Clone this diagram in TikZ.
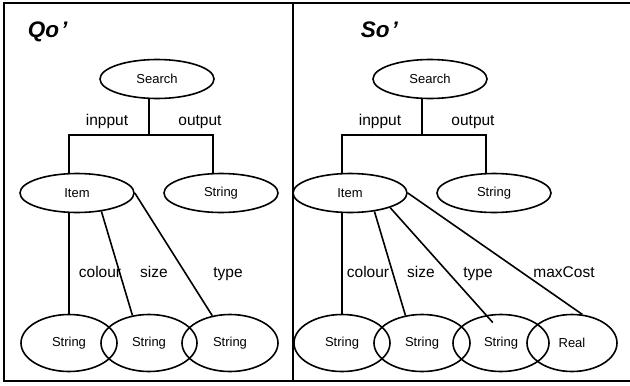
\documentclass[tikz,border=0pt]{standalone}
\usepackage{fontspec}
\setmainfont{Liberation Sans}
\usetikzlibrary{shapes.geometric}
\begin{document}
\begin{tikzpicture}[x=1pt,y=-1pt,
  line width=1.6pt,
  oval/.style={ellipse,draw,line width=1.6pt,inner sep=0pt,
    minimum width=114pt,minimum height=39pt,
    font=\fontsize{13}{15}\selectfont},
  leaf/.style={oval,minimum width=96pt,minimum height=57pt},
  lbl/.style={anchor=base,inner sep=0pt,font=\fontsize{15.5}{18}\selectfont},
  ttl/.style={anchor=base west,inner sep=0pt,font=\fontsize{22.5}{26}\selectfont\bfseries\itshape},
  edge/.style={line width=1.6pt}]
\useasboundingbox (0,0) rectangle (630,386);

% frame and divider
\draw[line width=2pt] (630,3) -- (4,3) -- (4,381) -- (630,381);
\draw[line width=2pt] (293,3) -- (293,381);

% ---------- left panel ----------
\node[ttl] (tq) at (27,37) {Qo\kern2pt’};
\node[oval] (sL) at (157,79) {Search};
\node[oval] (iL) at (77,193) {Item};
\node[oval] (oL) at (221,193) {String};
\node[leaf] (aL) at (69,343) {String};
\node[leaf] (bL) at (149,343) {String};
\node[leaf] (cL) at (230,343) {String};

\coordinate (jL) at (149,135);
\coordinate (lL) at (69,135);
\coordinate (rL) at (213,135);
\draw[edge] (jL |- sL.south) -- (jL);
\draw[edge] (lL |- iL.north) -- (lL) -- (rL) -- (rL |- oL.north);
\node[lbl] (inL) at (107,125) {inpput};
\node[lbl] (outL) at (200,125) {output};

\draw[edge] (aL.north |- iL.south) -- (aL.north);
\draw[edge] (iL.-37) -- (bL.121);
\draw[edge] (iL.0) -- (cL.123);
\node[lbl] (colL) at (100,277) {colour};
\node[lbl] (sizL) at (154,277) {size};
\node[lbl] (typL) at (228,277) {type};

% ---------- right panel ----------
\node[ttl] (ts) at (360,37) {So\kern2pt’};
\node[oval] (sR) at (430,79) {Search};
\node[oval] (iR) at (350,193) {Item};
\node[oval] (oR) at (494,193) {String};
\node[leaf] (aR) at (342,343) {String};
\node[leaf] (bR) at (422,343) {String};
\node[leaf] (cR) at (501,343) {String};
\node[leaf,minimum width=90pt] (dR) at (572,343) {Real};

\coordinate (jR) at (422,135);
\coordinate (lR) at (342,135);
\coordinate (rR) at (486,135);
\draw[edge] (jR |- sR.south) -- (jR);
\draw[edge] (lR |- iR.north) -- (lR) -- (rR) -- (rR |- oR.north);
\node[lbl] (inR) at (380,125) {inpput};
\node[lbl] (outR) at (473,125) {output};

\draw[edge] (aR.north |- iR.south) -- (aR.north);
\draw[edge] (iR.-37) -- (bR.121);
\draw[edge,shorten >=-10pt] (iR.-20) -- (cR.118);
\draw[edge] (iR.0) -- (dR.70);
\node[lbl] (colR) at (368,277) {colour};
\node[lbl] (sizR) at (421,277) {size};
\node[lbl] (typR) at (478,277) {type};
\node[lbl] (mcR) at (564,277) {maxCost};
\end{tikzpicture}
\end{document}
